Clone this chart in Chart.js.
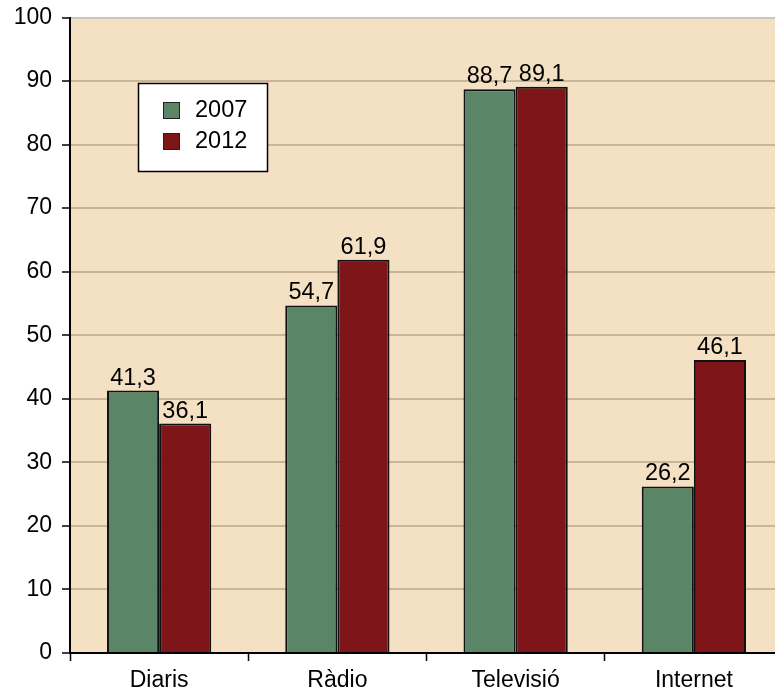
<!DOCTYPE html>
<html><head><meta charset="utf-8">
<script src="https://cdn.jsdelivr.net/npm/chart.js@4/dist/chart.umd.min.js"></script>
<style>html,body{margin:0;padding:0;background:#fff;overflow:hidden;}#wrap{width:786px;height:690px;}</style>
</head><body><div id="wrap"><canvas id="c" width="786" height="690"></canvas></div>
<script>
const categories = ['Diaris', 'Ràdio', 'Televisió', 'Internet'];
const values2007 = [41.3, 54.7, 88.7, 26.2];
const values2012 = [36.1, 61.9, 89.1, 46.1];
const seriesNames = ['2007', '2012'];
const yTicks = [0, 10, 20, 30, 40, 50, 60, 70, 80, 90, 100];

const FONT = '"Liberation Sans", Arial, sans-serif';
const GREEN = '#5A8566', RED = '#7D1519', BG = '#F4E1C3';

const bgPlugin = {
  id: 'bgPlugin',
  beforeDraw(chart) {
    const {ctx, chartArea: a} = chart;
    ctx.save();
    ctx.fillStyle = BG;
    ctx.fillRect(a.left, a.top, a.right - a.left, a.bottom - a.top);
    ctx.restore();
  }
};
const labelPlugin = {
  id: 'labelPlugin',
  afterDatasetsDraw(chart) {
    const ctx = chart.ctx;
    ctx.save();
    ctx.font = '23.5px ' + FONT;
    ctx.fillStyle = '#000';
    ctx.textAlign = 'center';
    ctx.textBaseline = 'alphabetic';
    chart.data.datasets.forEach((ds, i) => {
      chart.getDatasetMeta(i).data.forEach((bar, j) => {
        ctx.fillText(ds.data[j].toFixed(1).replace('.', ','), bar.x, bar.y - 6);
      });
    });
    ctx.restore();
  }
};
const legendPlugin = {
  id: 'legendPlugin',
  afterDraw(chart) {
    const ctx = chart.ctx;
    ctx.save();
    const x = 138.5, y = 83.5, w = 129, h = 88;
    ctx.fillStyle = '#fff';
    ctx.fillRect(x, y, w, h);
    ctx.strokeStyle = '#000';
    ctx.lineWidth = 1.5;
    ctx.strokeRect(x, y, w, h);
    ctx.font = '23.5px ' + FONT;
    ctx.textBaseline = 'middle';
    ctx.textAlign = 'left';
    chart.data.datasets.forEach((ds, i) => {
      const cy = 110 + i * 31;
      ctx.fillStyle = ds.backgroundColor;
      ctx.fillRect(163, cy - 8, 17, 17);
      ctx.lineWidth = 1;
      ctx.strokeStyle = '#222';
      ctx.strokeRect(163.5, cy - 7.5, 16, 16);
      ctx.fillStyle = '#000';
      ctx.fillText(ds.label, 195, cy + 1);
    });
    ctx.restore();
  }
};

new Chart(document.getElementById('c'), {
  type: 'bar',
  data: {
    labels: categories,
    datasets: [
      {label: seriesNames[0], data: values2007, backgroundColor: GREEN, borderColor: '#111', borderWidth: 2},
      {label: seriesNames[1], data: values2012, backgroundColor: RED, borderColor: '#111', borderWidth: 2}
    ]
  },
  options: {
    responsive: false,
    animation: false,
    devicePixelRatio: 1,
    layout: {padding: {top: 17.5, right: 3, left: 0, bottom: 0}},
    datasets: {bar: {categoryPercentage: 0.585, barPercentage: 1.0}},
    plugins: {legend: {display: false}, tooltip: {enabled: false}},
    scales: {
      x: {
        grid: {drawOnChartArea: false, drawTicks: true, tickLength: 8, tickColor: '#000', tickWidth: 1.5},
        border: {color: '#000', width: 2},
        ticks: {color: '#000', font: {family: FONT, size: 23}, padding: 6},
        afterFit(s) { s.height = 37; s.paddingLeft = 0; s.paddingRight = 0; }
      },
      y: {
        min: 0, max: 100,
        afterBuildTicks(s) { s.ticks = yTicks.map(v => ({value: v})); },
        grid: {color: (c) => c.tick && c.tick.value === 100 ? '#C9C6C0' : '#C9B597', lineWidth: 2, tickLength: 8, tickColor: '#000', tickWidth: 1.5},
        border: {color: '#000', width: 2},
        ticks: {color: '#000', font: {family: FONT, size: 23}, padding: 10},
        afterFit(s) { s.width = 70; s.paddingTop = 0; s.paddingBottom = 0; }
      }
    }
  },
  plugins: [bgPlugin, labelPlugin, legendPlugin]
});
</script></body></html>
